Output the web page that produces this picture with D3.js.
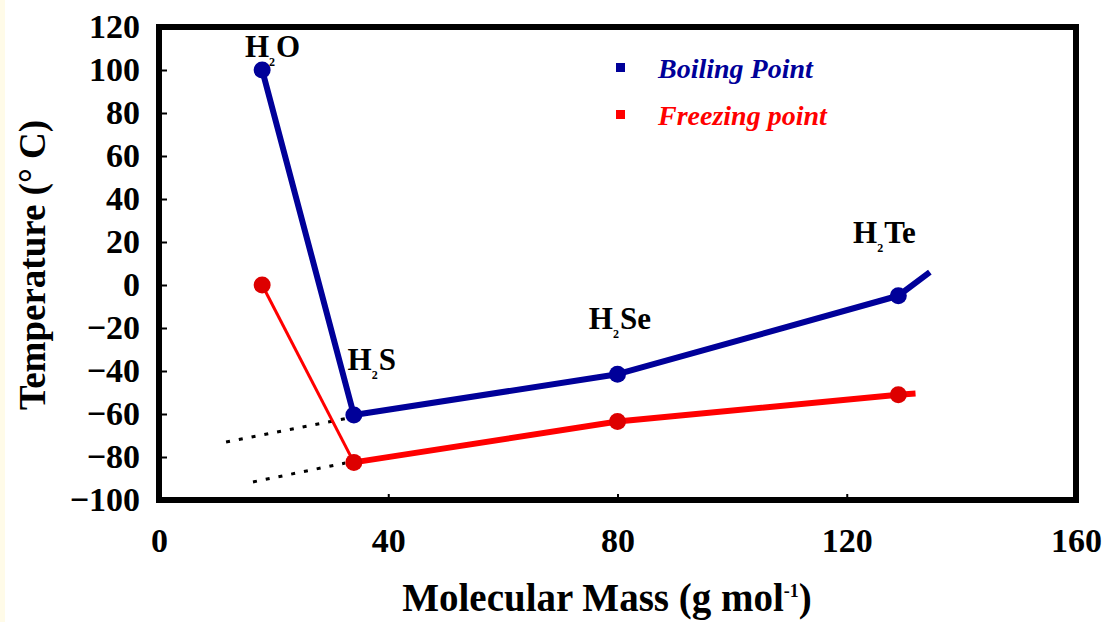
<!DOCTYPE html>
<html>
<head>
<meta charset="utf-8">
<script src="https://cdn.jsdelivr.net/npm/d3@7"></script>
<style>
  body { margin: 0; background: #fff; }
  svg text { font-family: "Liberation Serif", "Times New Roman", serif; font-weight: bold; }
</style>
</head>
<body>
<div id="chart"></div>
<script>
// data
const compounds = ['H2O', 'H2S', 'H2Se', 'H2Te'];
const molarMass = [18, 34, 80, 129];
const boilingPoint = [100, -60.5, -41.5, -5];
const freezingPoint = [0, -82.5, -63.5, -51];
// where each drawn line runs on past the last point
const boilingTail = [134.5, 6];
const freezingTail = [132, -50.5];
// dotted extrapolation lines [x1, y1, x2, y2]
const dottedLines = [[11.7, -73, 33.9, -61.4], [16.4, -91.6, 32.5, -82.8]];
const xTicks = [0, 40, 80, 120, 160];
const yTicks = [-100, -80, -60, -40, -20, 0, 20, 40, 60, 80, 100, 120];
// label anchor points (data coords)
const labelPos = [[15, 106], [32.9, -39.5], [75, -20.5], [121.1, 19.5]];

const W = 1109, H = 622;
const blue = '#000099', red = '#ff0000';
const m = {left: 159, right: 1076, top: 27, bottom: 500};

const svg = d3.select('#chart').append('svg')
  .attr('width', W).attr('height', H);

svg.append('rect').attr('x', 0).attr('y', 0).attr('width', 5).attr('height', H)
  .attr('fill', '#fffbe8');

const x = d3.scaleLinear().domain([0, 160]).range([m.left, m.right]);
const y = d3.scaleLinear().domain([-100, 120]).range([m.bottom, m.top]);

// axes
const xAxis = svg.append('g')
  .attr('transform', `translate(0,${m.bottom})`)
  .call(d3.axisBottom(x).tickValues(xTicks).tickSize(-6).tickPadding(28));
const yAxis = svg.append('g')
  .attr('transform', `translate(${m.left},0)`)
  .call(d3.axisLeft(y).tickValues(yTicks).tickSize(-8).tickPadding(19));
[xAxis, yAxis].forEach(g => {
  g.select('.domain').remove();
  g.selectAll('line').attr('stroke', '#000').attr('stroke-width', 2);
  g.selectAll('text').attr('fill', '#000').style('font-size', '34px')
    .style('font-family', '"Liberation Serif", serif').style('font-weight', 'bold');
});
xAxis.selectAll('line').filter(d => d === 0 || d === 160).remove();
yAxis.selectAll('line').filter(d => d === -100 || d === 120).remove();

// frame
svg.append('rect')
  .attr('x', m.left).attr('y', m.top)
  .attr('width', m.right - m.left).attr('height', m.bottom - m.top)
  .attr('fill', 'none').attr('stroke', '#000').attr('stroke-width', 6);

// dotted lines
svg.selectAll('.dot-line').data(dottedLines).enter().append('line')
  .attr('x1', d => x(d[0])).attr('y1', d => y(d[1]))
  .attr('x2', d => x(d[2])).attr('y2', d => y(d[3]))
  .attr('stroke', '#000').attr('stroke-width', 3).attr('stroke-dasharray', '4,9');

const line = d3.line().x(d => x(d[0])).y(d => y(d[1]));

const bPts = molarMass.map((v, i) => [v, boilingPoint[i]]);
const fPts = molarMass.map((v, i) => [v, freezingPoint[i]]);

// freezing: thin first segment, thicker rest
svg.append('path').attr('d', line(fPts.slice(0, 2)))
  .attr('fill', 'none').attr('stroke', red).attr('stroke-width', 3);
svg.append('path').attr('d', line(fPts.slice(1).concat([freezingTail])))
  .attr('fill', 'none').attr('stroke', red).attr('stroke-width', 6);

svg.append('path').attr('d', line(bPts.concat([boilingTail])))
  .attr('fill', 'none').attr('stroke', blue).attr('stroke-width', 6)
  .attr('stroke-linejoin', 'round');

svg.selectAll('.bp').data(bPts).enter().append('circle')
  .attr('cx', d => x(d[0])).attr('cy', d => y(d[1])).attr('r', 8.5)
  .attr('fill', blue);
svg.selectAll('.fp').data(fPts).enter().append('circle')
  .attr('cx', d => x(d[0])).attr('cy', d => y(d[1])).attr('r', 8.5)
  .attr('fill', '#dd0000');

// compound labels with subscript 2
compounds.forEach((c, i) => {
  const t = svg.append('text')
    .attr('x', x(labelPos[i][0])).attr('y', y(labelPos[i][1]))
    .style('font-size', '31px').attr('fill', '#000');
  t.append('tspan').text('H');
  t.append('tspan').text('2').style('font-size', '12px').attr('dy', 9);
  t.append('tspan').text(c.slice(2)).attr('dy', -9).attr('dx', 1);
});

// legend
const legend = [['Boiling Point', blue, 70], ['Freezing point', red, 117]];
legend.forEach(([label, col, ly]) => {
  svg.append('rect').attr('x', 616).attr('y', ly - 7).attr('width', 9).attr('height', 9).attr('fill', col);
  svg.append('text').attr('x', 658).attr('y', ly + 8)
    .style('font-size', '28px').style('font-style', 'italic')
    .attr('fill', col).text(label);
});

// axis titles
const xt = svg.append('text').attr('x', 607).attr('y', 611)
  .attr('text-anchor', 'middle').style('font-size', '39px').attr('fill', '#000');
xt.append('tspan').text('Molecular Mass (g mol');
xt.append('tspan').text('-1').style('font-size', '18px').attr('dy', -14);
xt.append('tspan').text(')').attr('dy', 14);

svg.append('text')
  .attr('transform', 'translate(45,265) rotate(-90)')
  .attr('text-anchor', 'middle').style('font-size', '37px').attr('fill', '#000')
  .text('Temperature (° C)');
</script>
</body>
</html>
